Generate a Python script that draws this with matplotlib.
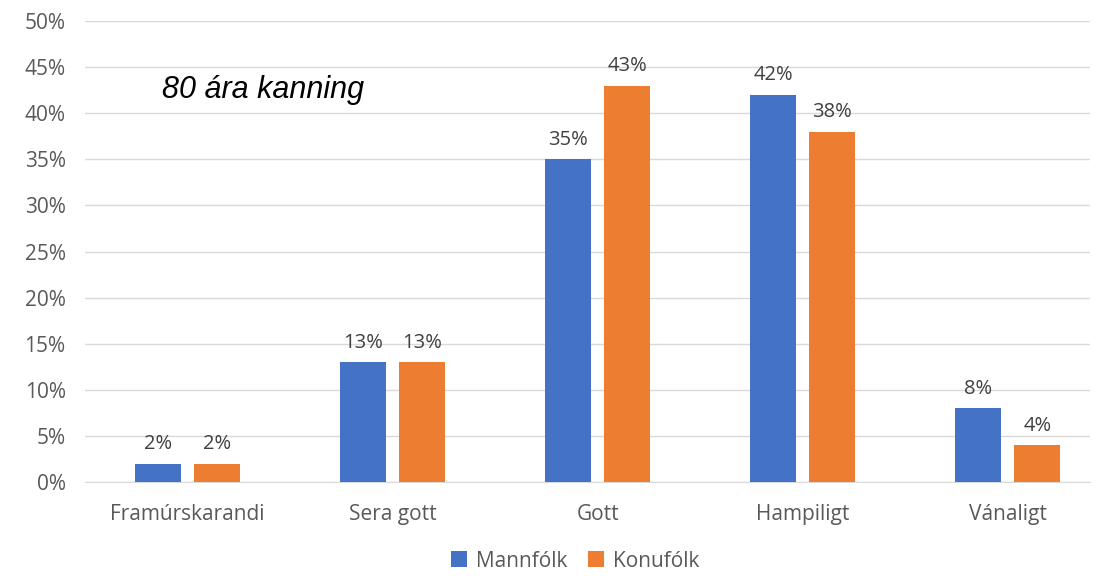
import numpy as np
import matplotlib
matplotlib.use('Agg')
import matplotlib.pyplot as plt

# survey data
categories = ['Framúrskarandi', 'Sera gott', 'Gott', 'Hampiligt', 'Vánaligt']
mannfolk = [2, 13, 35, 42, 8]
konufolk = [2, 13, 43, 38, 4]
series_names = ['Mannfólk', 'Konufólk']
title_text = '80 ára kanning'

plt.rcParams['font.family'] = ['Open Sans', 'DejaVu Sans']

fig = plt.figure(figsize=(10.97, 5.76), dpi=100)
ax = fig.add_axes([0.0775, 0.163, 0.916, 0.8005])

x = np.arange(len(categories))
w = 0.224
off = 0.144
b1 = ax.bar(x - off, mannfolk, w, color='#4472C4', label=series_names[0], zorder=3)
b2 = ax.bar(x + off, konufolk, w, color='#ED7D31', label=series_names[1], zorder=3)

for bars in (b1, b2):
    for r in bars:
        ax.annotate(f'{int(r.get_height())}%', (r.get_x() + r.get_width() / 2, r.get_height()),
                    xytext=(0, 7), textcoords='offset points', ha='center', va='bottom',
                    fontsize=14.5, color='#404040')

ax.set_xlim(-0.5, 4.4)
ax.set_ylim(0, 50)
ax.set_yticks(range(0, 51, 5))
ax.set_yticklabels([f'{v}%' for v in range(0, 51, 5)])
ax.set_xticks(x)
ax.set_xticklabels(categories)
ax.tick_params(axis='both', length=0, labelsize=15, labelcolor='#595959')
ax.tick_params(axis='x', pad=16)
ax.tick_params(axis='y', pad=14)
ax.grid(axis='y', color='#D9D9D9', linewidth=1, zorder=0)
for s in ['top', 'right', 'left']:
    ax.spines[s].set_visible(False)
ax.spines['bottom'].set_color('#D9D9D9')

ax.text(0.077, 0.85, title_text, transform=ax.transAxes, fontsize=22, style='italic',
        family=['Liberation Sans', 'DejaVu Sans'], va='center')

fig.legend(loc='lower center', ncol=2, frameon=False, fontsize=15,
           bbox_to_anchor=(0.524, -0.025), handlelength=0.8, handleheight=0.8,
           columnspacing=1.0, handletextpad=0.4, labelcolor='#595959')

fig.savefig('out.png', dpi=100)
